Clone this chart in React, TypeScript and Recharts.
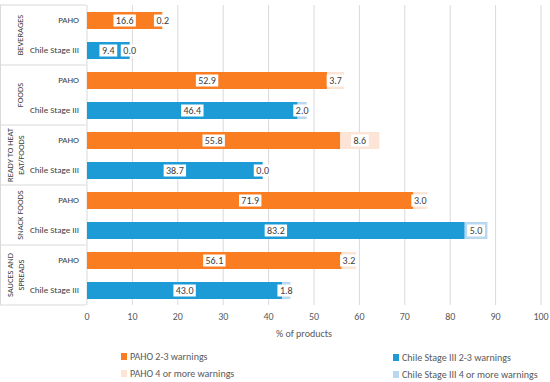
import React from "react";
import {
  BarChart,
  Bar,
  XAxis,
  YAxis,
  CartesianGrid,
  LabelList,
} from "recharts";

const groups = [
  ["BEVERAGES"],
  ["FOODS"],
  ["READY TO HEAT", "EAT/FOODS"],
  ["SNACK FOODS"],
  ["SAUCES AND", "SPREADS"],
];
const sources = ["PAHO", "Chile Stage III"];
const pahoMain = [16.6, 52.9, 55.8, 71.9, 56.1];
const pahoExtra = [0.2, 3.7, 8.6, 3.0, 3.2];
const chileMain = [9.4, 46.4, 38.7, 83.2, 43.0];
const chileExtra = [0.0, 2.0, 0.0, 5.0, 1.8];
const xTicks = [0, 10, 20, 30, 40, 50, 60, 70, 80, 90, 100];

const orange = "#fb7d21";
const peach = "#fce4d6";
const blue = "#1d9bd7";
const lightBlue = "#b7d8f0";
const grid = "#d9d9d9";
const textColor = "#595959";
const font = "Carlito, Lato, sans-serif";

const legendItems = [
  { name: "PAHO 2-3 warnings", color: orange, x: 121, y: 356 },
  { name: "PAHO 4 or more warnings", color: peach, x: 121, y: 373 },
  { name: "Chile Stage III 2-3 warnings", color: blue, x: 393, y: 357 },
  { name: "Chile Stage III 4 or more warnings", color: lightBlue, x: 393, y: 374 },
];

const rows = groups.flatMap((g, i) => [
  { id: `${i}-0`, group: i, src: 0, main: pahoMain[i], extra: pahoExtra[i] },
  { id: `${i}-1`, group: i, src: 1, main: chileMain[i], extra: chileExtra[i] },
]);

function CategoryTick(props: any) {
  const { y, payload } = props;
  const [g, s] = String(payload.value).split("-").map(Number);
  const lines = groups[g];
  return (
    <g>
      <text
        x={79}
        y={y}
        dy={3.2}
        textAnchor="end"
        fontSize={9}
        fontFamily={font}
        fill="#404040"
      >
        {sources[s]}
      </text>
      {s === 0 && (
        <>
          <line x1={0} x2={86} y1={y - 15} y2={y - 15} stroke={grid} />
          <line x1={0.5} x2={0.5} y1={y - 15} y2={y + 45} stroke={grid} />
          {lines.map((t, k) => {
            const cx = lines.length === 1 ? 20 : 10 + k * 11;
            return (
              <text
                key={t}
                x={cx}
                y={y + 15}
                dy={3}
                transform={`rotate(-90 ${cx} ${y + 15})`}
                textAnchor="middle"
                fontSize={8.5}
                fontFamily={font}
                fill="#404040"
              >
                {t}
              </text>
            );
          })}
        </>
      )}
      {s === 1 && g === groups.length - 1 && (
        <line x1={0} x2={86} y1={y + 15} y2={y + 15} stroke={grid} />
      )}
    </g>
  );
}

function BoxLabel(props: any) {
  const { x, y, width, height, value } = props;
  const txt = Number(value).toFixed(1);
  const cx = x + width / 2;
  const cy = y + height / 2;
  const w = txt.length * 4.6 + 4;
  return (
    <g>
      <rect x={cx - w / 2} y={cy - 6} width={w} height={12} fill="#fff" />
      <text
        x={cx}
        y={cy}
        dy={3.5}
        textAnchor="middle"
        fontSize={10}
        fontFamily={font}
        fill="#404040"
      >
        {txt}
      </text>
    </g>
  );
}

export default function App() {
  return (
    <div
      style={{
        position: "absolute",
        left: 0,
        top: 0,
        width: 550,
        height: 382,
        background: "#fff",
      }}
    >
      <BarChart
        width={550}
        height={382}
        data={rows}
        layout="vertical"
        margin={{ top: 5, right: 9, bottom: 47, left: 0 }}
        barSize={17}
      >
        <CartesianGrid horizontal={false} stroke={grid} />
        <XAxis
          type="number"
          domain={[0, 100]}
          ticks={xTicks}
          axisLine={false}
          tickLine={false}
          interval={0}
          height={30}
          tick={{ fontSize: 10, fontFamily: font, fill: textColor }}
          label={{
            value: "% of products",
            position: "insideBottom",
            offset: -2,
            dx: -10,
            fontSize: 10,
            fontFamily: font,
            fill: textColor,
          }}
        />
        <YAxis
          type="category"
          dataKey="id"
          width={87}
          axisLine={false}
          tickLine={false}
          interval={0}
          tick={<CategoryTick />}
        />
        <Bar dataKey="main" stackId="a" isAnimationActive={false}
          shape={(p: any) => (
            <rect x={p.x} y={p.y} width={Math.max(p.width, 0)} height={p.height}
              fill={p.payload.src === 0 ? orange : blue} />
          )}
        >
          <LabelList dataKey="main" content={<BoxLabel />} />
        </Bar>
        <Bar dataKey="extra" stackId="a" isAnimationActive={false}
          shape={(p: any) => (
            <rect x={p.x} y={p.y} width={Math.max(p.width, 0)} height={p.height}
              fill={p.payload.src === 0 ? peach : lightBlue} />
          )}
        >
          <LabelList dataKey="extra" content={<BoxLabel />} />
        </Bar>
      </BarChart>
      {legendItems.map((it) => (
        <div
          key={it.name}
          style={{
            position: "absolute",
            left: it.x,
            top: it.y - 7,
            height: 14,
            display: "flex",
            alignItems: "center",
            fontFamily: font,
            fontSize: 10,
            color: textColor,
            whiteSpace: "nowrap",
          }}
        >
          <span
            style={{
              display: "inline-block",
              width: 6,
              height: 7,
              background: it.color,
              marginRight: 3,
            }}
          />
          {it.name}
        </div>
      ))}
    </div>
  );
}
